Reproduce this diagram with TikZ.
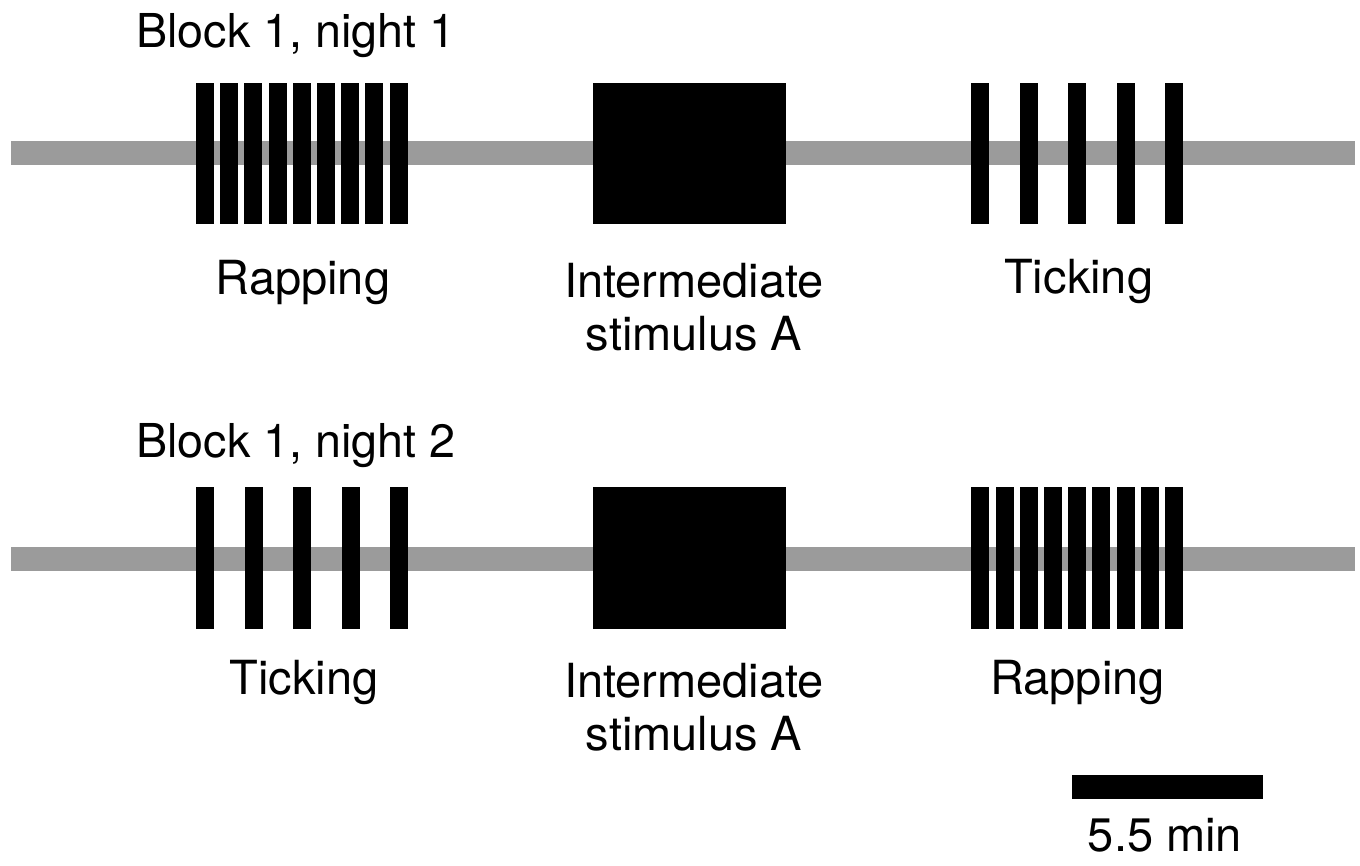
\documentclass[tikz,border=0pt]{standalone}
\usepackage{fontspec}
\setmainfont{TeX Gyre Heros}
\definecolor{trackgray}{RGB}{155,155,155}
\begin{document}
\begin{tikzpicture}[x=1pt,y=-1pt,
  track/.style={draw=trackgray, line width=24pt},
  pulse/.style={rectangle, fill=black, draw=none, inner sep=0pt, outer sep=0pt,
                minimum width=18pt, minimum height=141pt, anchor=north west},
  stimbox/.style={rectangle, fill=black, draw=none, inner sep=0pt, outer sep=0pt,
                minimum width=193pt, minimum height=141pt, anchor=north west},
  scalebar/.style={rectangle, fill=black, draw=none, inner sep=0pt, outer sep=0pt,
                minimum width=191pt, minimum height=24pt, anchor=north west},
  lbl/.style={font=\fontsize{47}{53.5}\selectfont, inner sep=0pt, align=center, anchor=base},
  title/.style={font=\fontsize{46.7}{53.5}\selectfont, inner sep=0pt, anchor=base west}]
\useasboundingbox (0,0) rectangle (1360,865);

% timelines
\coordinate (t1w) at (11,153);  \coordinate (t1e) at (1355,153);
\coordinate (t2w) at (11,558.5); \coordinate (t2e) at (1355,558.5);
\draw[track] (t1w) -- (t1e);
\draw[track] (t2w) -- (t2e);

% night 1: rapping, intermediate stimulus, ticking
\foreach \i in {0,...,8} \node[pulse] (n1r\i) at ({196+24.2*\i},83) {};
\node[stimbox] (n1s) at (593,83) {};
\foreach \i in {0,...,4} \node[pulse] (n1t\i) at ({971.3+48.5*\i},83) {};

% night 2: ticking, intermediate stimulus, rapping
\foreach \i in {0,...,4} \node[pulse, minimum height=142pt] (n2t\i) at ({196+48.5*\i},487) {};
\node[stimbox, minimum height=142pt] (n2s) at (593,487) {};
\foreach \i in {0,...,8} \node[pulse, minimum height=142pt] (n2r\i) at ({971.3+24.2*\i},487) {};

% titles
\node[title] (h1) at (136,47) {Block 1, night 1};
\node[title] (h2) at (136,457) {Block 1, night 2};

% labels under the stimuli (base = last line)
\node[lbl] (l1a) at (303,294) {Rapping};
\node[lbl] (l1b) at (694,350.5) {Intermediate\\stimulus A};
\node[lbl] (l1c) at (1078.7,293.5) {Ticking};
\node[lbl] (l2a) at (304,694) {Ticking};
\node[lbl] (l2b) at (694,750.5) {Intermediate\\stimulus A};
\node[lbl] (l2c) at (1077.5,694) {Rapping};

% scale bar
\node[scalebar] (sb) at (1072,775) {};
\node[lbl] (sbl) at (1165,851.7) {5.5 min};
\end{tikzpicture}
\end{document}
